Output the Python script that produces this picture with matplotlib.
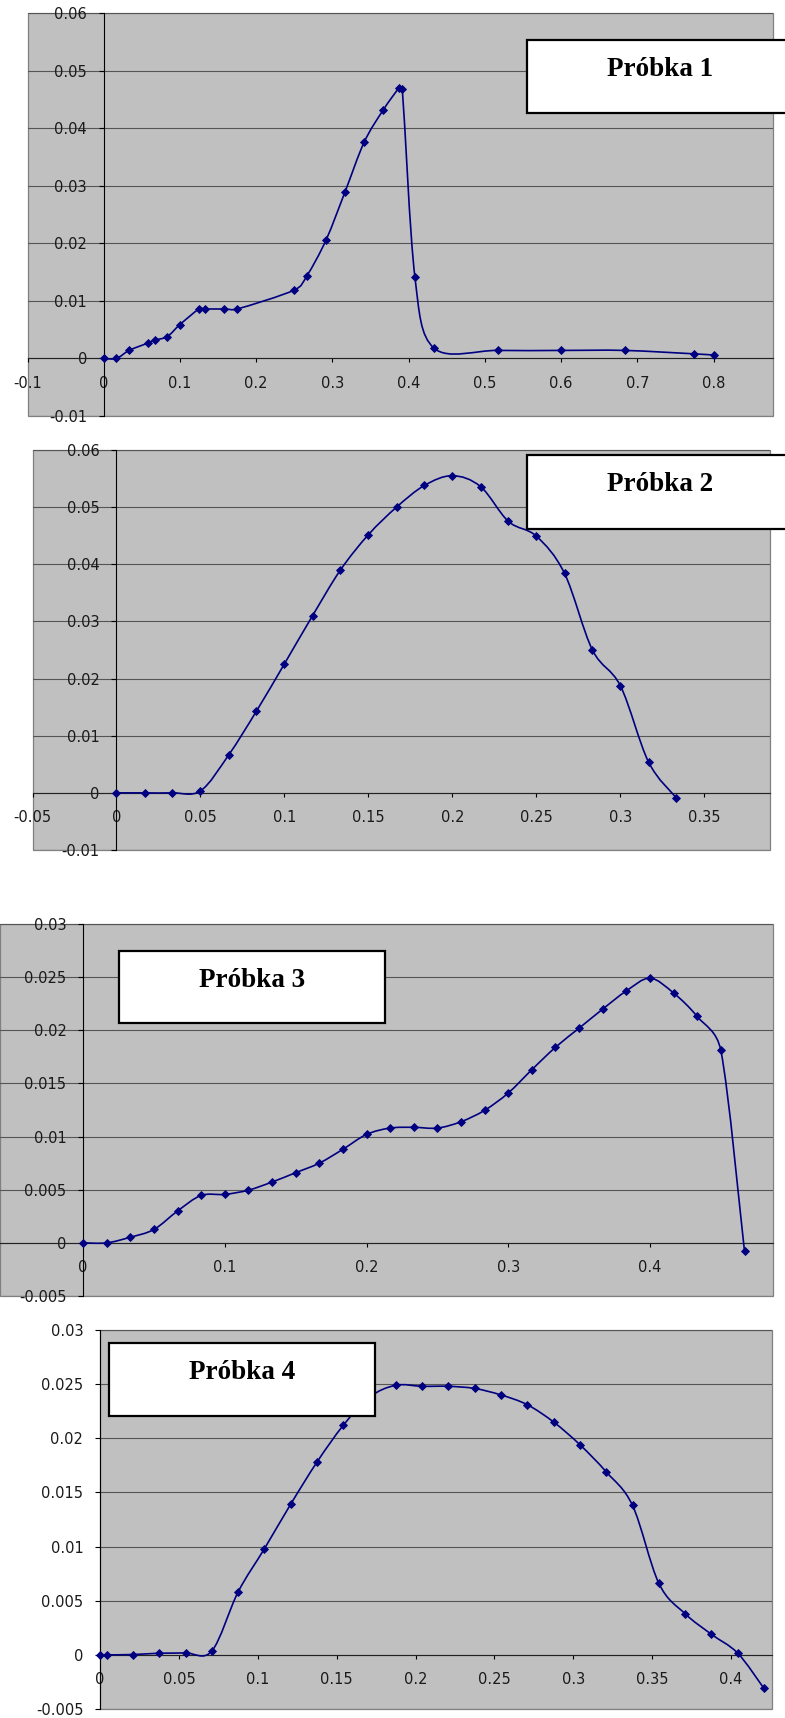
import numpy as np
import matplotlib
matplotlib.use("Agg")
import matplotlib.pyplot as plt
from matplotlib.path import Path
from matplotlib.patches import PathPatch, Rectangle

# ---------------- data ----------------
sample1_x = [0.0, 0.0167, 0.0333, 0.0583, 0.0667, 0.0833, 0.1, 0.125, 0.1333,
             0.1583, 0.175, 0.25, 0.2667, 0.2917, 0.3167, 0.3417, 0.3667,
             0.3875, 0.3917, 0.4083, 0.4333, 0.5167, 0.6, 0.6833, 0.775, 0.8]
sample1_y = [0.0, 0.0, 0.0014, 0.0027, 0.0032, 0.0038, 0.0059, 0.0086, 0.0086,
             0.0086, 0.0086, 0.0119, 0.0144, 0.0206, 0.029, 0.0376, 0.0432,
             0.0470, 0.0468, 0.0141, 0.0018, 0.0014, 0.0014, 0.0014, 0.0008, 0.0006]

sample2_x = [0.0, 0.0167, 0.0333, 0.05, 0.0667, 0.0833, 0.1, 0.1167, 0.1333,
             0.15, 0.1667, 0.1833, 0.2, 0.2167, 0.2333, 0.25, 0.2667, 0.2833,
             0.3, 0.3167, 0.3333]
sample2_y = [0.0, 0.0, 0.0, 0.00035, 0.0066, 0.0143, 0.0226, 0.031, 0.039,
             0.0452, 0.05, 0.0538, 0.0555, 0.0536, 0.0475, 0.0449, 0.0384,
             0.025, 0.0187, 0.0054, -0.0009]

sample3_x = [0.0, 0.0167, 0.0333, 0.05, 0.0667, 0.0833, 0.1, 0.1167, 0.1333,
             0.15, 0.1667, 0.1833, 0.2, 0.2167, 0.2333, 0.25, 0.2667, 0.2833,
             0.3, 0.3167, 0.3333, 0.35, 0.3667, 0.3833, 0.4, 0.4167, 0.4333,
             0.45, 0.4667]
sample3_y = [0.0, 0.0, 0.00053, 0.00126, 0.003, 0.00446, 0.00456, 0.00496,
             0.00572, 0.0066, 0.0075, 0.0088, 0.0102, 0.0108, 0.01087, 0.0108,
             0.0114, 0.01247, 0.0141, 0.0163, 0.0184, 0.0202, 0.022, 0.0237,
             0.0249, 0.0235, 0.0213, 0.0181, -0.0008]

sample4_x = [0.0, 0.0042, 0.0208, 0.0375, 0.0542, 0.0708, 0.0875, 0.1042,
             0.1208, 0.1375, 0.1542, 0.1708, 0.1875, 0.2042, 0.2208, 0.2375,
             0.2542, 0.2708, 0.2875, 0.3042, 0.3208, 0.3375, 0.3542, 0.3708,
             0.3875, 0.4042, 0.4208]
sample4_y = [0.0, 0.0, 0.00003, 0.00015, 0.00018, 0.00034, 0.0058, 0.0098,
             0.0139, 0.0178, 0.0212, 0.0238, 0.0249, 0.0248, 0.0248, 0.0246,
             0.024, 0.0231, 0.0215, 0.0194, 0.0169, 0.0138, 0.0066, 0.0038,
             0.0019, 0.00015, -0.0031]

titles = ["Próbka 1", "Próbka 2", "Próbka 3", "Próbka 4"]

xticks1 = [-0.1, 0.0, 0.1, 0.2, 0.3, 0.4, 0.5, 0.6, 0.7, 0.8]
yticks1 = [-0.01, 0.0, 0.01, 0.02, 0.03, 0.04, 0.05, 0.06]
xticks2 = [-0.05, 0.0, 0.05, 0.1, 0.15, 0.2, 0.25, 0.3, 0.35]
yticks2 = [-0.01, 0.0, 0.01, 0.02, 0.03, 0.04, 0.05, 0.06]
xticks3 = [0.0, 0.1, 0.2, 0.3, 0.4]
yticks3 = [-0.005, 0.0, 0.005, 0.01, 0.015, 0.02, 0.025, 0.03]
xticks4 = [0.0, 0.05, 0.1, 0.15, 0.2, 0.25, 0.3, 0.35, 0.4]
yticks4 = [-0.005, 0.0, 0.005, 0.01, 0.015, 0.02, 0.025, 0.03]

# ---------------- styling ----------------
W, H = 785, 1718
plt.rcParams["axes.unicode_minus"] = False
plt.rcParams["font.family"] = ["DejaVu Sans"]

LINE = "#000080"
PLOT_BG = "#c0c0c0"
GRID = "#555555"

fig = plt.figure(figsize=(W / 100, H / 100), dpi=100)
fig.patch.set_facecolor("white")


def px_axes(left, top, right, bottom):
    return fig.add_axes([left / W, 1 - bottom / H, (right - left) / W, (bottom - top) / H])


def smooth_path(ax, xs, ys):
    """Cubic Bezier through every point (Catmull-Rom tangents, limited
    to half the segment length so closely spaced points don't loop)."""
    to_disp = ax.transData
    pts = to_disp.transform(np.column_stack([xs, ys]).astype(float))
    n = len(pts)
    verts = [pts[0]]
    codes = [Path.MOVETO]

    def limit(t, seg_len):
        m = np.hypot(*t)
        cap = 0.5 * seg_len
        return t * (cap / m) if m > cap and m > 0 else t

    for i in range(n - 1):
        p0 = pts[i - 1] if i > 0 else pts[i]
        p1 = pts[i]
        p2 = pts[i + 1]
        p3 = pts[i + 2] if i + 2 < n else pts[i + 1]
        seg = np.hypot(*(p2 - p1))
        t1 = limit((p2 - p0) / 6.0, seg)
        t2 = limit((p3 - p1) / 6.0, seg)
        verts += [p1 + t1, p2 - t2, p2]
        codes += [Path.CURVE4] * 3
    data_verts = to_disp.inverted().transform(np.array(verts))
    return Path(data_verts, codes)


def fmt(v):
    s = "%g" % round(v, 6)
    return "0" if s in ("-0", "0") else s


def draw_panel(ax, xs, ys, xlim, ylim, xticks, yticks):
    ax.set_facecolor(PLOT_BG)
    ax.patch.set_edgecolor("#808080")
    ax.patch.set_linewidth(0.9)
    ax.set_xlim(*xlim)
    ax.set_ylim(*ylim)
    ax.set_xticks(xticks)
    ax.set_xticklabels([fmt(v) for v in xticks])
    ax.set_yticks(yticks)
    ax.set_yticklabels([fmt(v) for v in yticks])
    ax.yaxis.grid(True, color=GRID, linewidth=0.8)
    ax.xaxis.grid(False)
    ax.set_axisbelow(True)
    for side in ("top", "right"):
        ax.spines[side].set_visible(False)
    ax.spines["left"].set_position(("data", 0))
    ax.spines["bottom"].set_position(("data", 0))
    ax.spines["left"].set_color("black")
    ax.spines["left"].set_linewidth(0.8)
    ax.spines["bottom"].set_color("#222222")
    ax.spines["bottom"].set_linewidth(0.8)
    ax.tick_params(axis="y", direction="out", length=3.5, width=0.8,
                   pad=8.5, labelsize=10.5, labelcolor="#1a1a1a", color="black")
    ax.tick_params(axis="x", direction="out", length=3.0, width=0.8,
                   pad=9.5, labelsize=10.5, labelcolor="#1a1a1a", color="black")
    for lbl in ax.get_xticklabels() + ax.get_yticklabels():
        lbl.set_clip_on(False)
    ax.add_patch(PathPatch(smooth_path(ax, xs, ys), fill=False, edgecolor=LINE,
                           linewidth=1.2, zorder=3))
    ax.plot(xs, ys, linestyle="none", marker="D", markersize=4.3,
            markerfacecolor=LINE, markeredgecolor=LINE, markeredgewidth=0.6,
            zorder=4, clip_on=False)


def title_box(x0, top, width, height, text):
    fig.add_artist(Rectangle((x0 / W, 1 - (top + height) / H), width / W, height / H,
                             transform=fig.transFigure, facecolor="white",
                             edgecolor="black", linewidth=1.6, zorder=5))
    fig.text((x0 + width / 2) / W, 1 - (top + 36) / H, text, ha="center",
             va="baseline", fontsize=19.5, fontweight="bold",
             family=["Liberation Serif", "DejaVu Serif"], zorder=6)


ax1 = px_axes(27.5, 13.3, 772.5, 416)
draw_panel(ax1, sample1_x, sample1_y, (-0.1, 0.8774), (-0.01, 0.06), xticks1, yticks1)

ax2 = px_axes(32.5, 450, 770, 850)
draw_panel(ax2, sample2_x, sample2_y, (-0.05, 0.389), (-0.01, 0.06), xticks2, yticks2)

ax3 = px_axes(0, 924, 773, 1296)
draw_panel(ax3, sample3_x, sample3_y, (-0.0586, 0.4868), (-0.005, 0.03), xticks3, yticks3)

ax4 = px_axes(100, 1330, 772, 1709)
draw_panel(ax4, sample4_x, sample4_y, (0.0, 0.4259), (-0.005, 0.03), xticks4, yticks4)

title_box(526.6, 40, 266, 72.7, titles[0])
title_box(526.6, 455, 266, 73.7, titles[1])
title_box(119, 950.7, 266, 72.6, titles[2])
title_box(109, 1342.7, 266, 73.3, titles[3])

fig.savefig("out.png", dpi=100, facecolor="white")
